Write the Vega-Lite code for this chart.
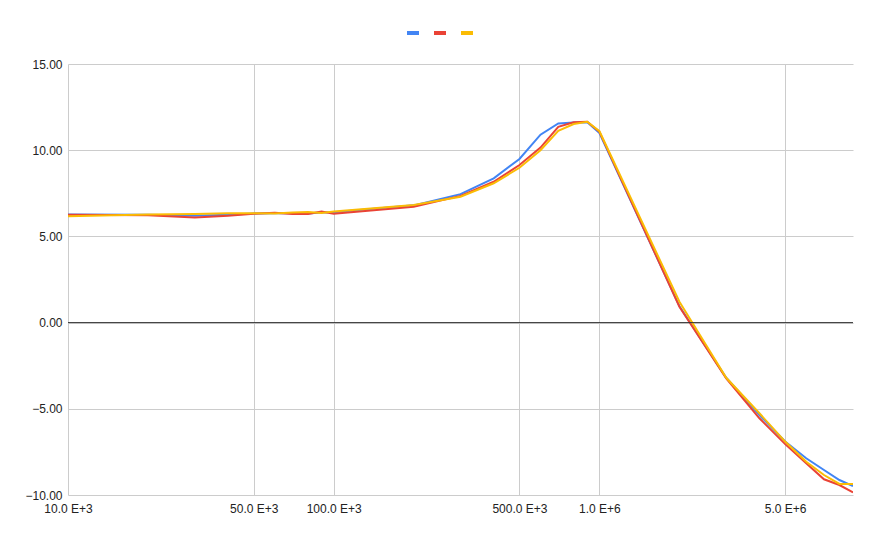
{
  "$schema": "https://vega.github.io/schema/vega-lite/v6.json",
  "width": 785,
  "height": 431,
  "autosize": "none",
  "padding": {"left": 68, "top": 64, "right": 28, "bottom": 49},
  "background": "white",
  "config": {
    "view": {"stroke": null},
    "font": "Liberation Sans",
    "axis": {"labelFont": "Liberation Sans", "labelFontSize": 12, "labelColor": "#222222", "gridColor": "#cccccc", "gridWidth": 1, "domain": false, "ticks": false, "title": null}
  },
  "datasets": {
    "curves": [
      {"freq": 10000, "series": "A", "value": 6.27}, {"freq": 10000, "series": "B", "value": 6.25}, {"freq": 10000, "series": "C", "value": 6.17},
      {"freq": 20000, "series": "A", "value": 6.25}, {"freq": 20000, "series": "B", "value": 6.22}, {"freq": 20000, "series": "C", "value": 6.27},
      {"freq": 30000, "series": "A", "value": 6.2}, {"freq": 30000, "series": "B", "value": 6.1}, {"freq": 30000, "series": "C", "value": 6.3},
      {"freq": 40000, "series": "A", "value": 6.26}, {"freq": 40000, "series": "B", "value": 6.2}, {"freq": 40000, "series": "C", "value": 6.34},
      {"freq": 50000, "series": "A", "value": 6.33}, {"freq": 50000, "series": "B", "value": 6.32}, {"freq": 50000, "series": "C", "value": 6.35},
      {"freq": 60000, "series": "A", "value": 6.35}, {"freq": 60000, "series": "B", "value": 6.37}, {"freq": 60000, "series": "C", "value": 6.33},
      {"freq": 70000, "series": "A", "value": 6.34}, {"freq": 70000, "series": "B", "value": 6.3}, {"freq": 70000, "series": "C", "value": 6.38},
      {"freq": 80000, "series": "A", "value": 6.33}, {"freq": 80000, "series": "B", "value": 6.3}, {"freq": 80000, "series": "C", "value": 6.42},
      {"freq": 90000, "series": "A", "value": 6.38}, {"freq": 90000, "series": "B", "value": 6.44}, {"freq": 90000, "series": "C", "value": 6.36},
      {"freq": 100000, "series": "A", "value": 6.4}, {"freq": 100000, "series": "B", "value": 6.32}, {"freq": 100000, "series": "C", "value": 6.45},
      {"freq": 200000, "series": "A", "value": 6.8}, {"freq": 200000, "series": "B", "value": 6.72}, {"freq": 200000, "series": "C", "value": 6.82},
      {"freq": 300000, "series": "A", "value": 7.45}, {"freq": 300000, "series": "B", "value": 7.35}, {"freq": 300000, "series": "C", "value": 7.3},
      {"freq": 400000, "series": "A", "value": 8.37}, {"freq": 400000, "series": "B", "value": 8.17}, {"freq": 400000, "series": "C", "value": 8.08},
      {"freq": 500000, "series": "A", "value": 9.49}, {"freq": 500000, "series": "B", "value": 9.14}, {"freq": 500000, "series": "C", "value": 8.98},
      {"freq": 600000, "series": "A", "value": 10.9}, {"freq": 600000, "series": "B", "value": 10.15}, {"freq": 600000, "series": "C", "value": 10.0},
      {"freq": 700000, "series": "A", "value": 11.55}, {"freq": 700000, "series": "B", "value": 11.36}, {"freq": 700000, "series": "C", "value": 11.13},
      {"freq": 800000, "series": "A", "value": 11.6}, {"freq": 800000, "series": "B", "value": 11.62}, {"freq": 800000, "series": "C", "value": 11.52},
      {"freq": 900000, "series": "A", "value": 11.62}, {"freq": 900000, "series": "B", "value": 11.65}, {"freq": 900000, "series": "C", "value": 11.65},
      {"freq": 1000000, "series": "A", "value": 11.0}, {"freq": 1000000, "series": "B", "value": 11.07}, {"freq": 1000000, "series": "C", "value": 11.1},
      {"freq": 2000000, "series": "A", "value": 0.95}, {"freq": 2000000, "series": "B", "value": 0.92}, {"freq": 2000000, "series": "C", "value": 1.21},
      {"freq": 3000000, "series": "A", "value": -3.2}, {"freq": 3000000, "series": "B", "value": -3.23}, {"freq": 3000000, "series": "C", "value": -3.2},
      {"freq": 4000000, "series": "A", "value": -5.36}, {"freq": 4000000, "series": "B", "value": -5.55}, {"freq": 4000000, "series": "C", "value": -5.26},
      {"freq": 5000000, "series": "A", "value": -6.9}, {"freq": 5000000, "series": "B", "value": -7.05}, {"freq": 5000000, "series": "C", "value": -6.9},
      {"freq": 6000000, "series": "A", "value": -7.87}, {"freq": 6000000, "series": "B", "value": -8.16}, {"freq": 6000000, "series": "C", "value": -8.07},
      {"freq": 7000000, "series": "A", "value": -8.55}, {"freq": 7000000, "series": "B", "value": -9.09}, {"freq": 7000000, "series": "C", "value": -8.84},
      {"freq": 8000000, "series": "A", "value": -9.13}, {"freq": 8000000, "series": "B", "value": -9.42}, {"freq": 8000000, "series": "C", "value": -9.36},
      {"freq": 9000000, "series": "A", "value": -9.48}, {"freq": 9000000, "series": "B", "value": -9.85}, {"freq": 9000000, "series": "C", "value": -9.36}
    ],
    "zero": [{"y": 0}]
  },
  "layer": [
    {
      "data": {"name": "curves"},
      "mark": {"type": "line", "strokeWidth": 2, "clip": true},
      "encoding": {
        "x": {
          "field": "freq", "type": "quantitative",
          "scale": {"type": "log", "domain": [10000, 9000000], "nice": false},
          "axis": {
            "values": [10000, 50000, 100000, 500000, 1000000, 5000000],
            "labelExpr": "format(datum.value / pow(10, floor(log(datum.value) / LN10 / 3 + 1e-9) * 3), '.1f') + ' E+' + (floor(log(datum.value) / LN10 / 3 + 1e-9) * 3)",
            "labelPadding": 8,
            "labelFlush": false
          }
        },
        "y": {
          "field": "value", "type": "quantitative",
          "scale": {"domain": [-10, 15], "nice": false},
          "axis": {"values": [-10, -5, 0, 5, 10, 15], "format": ".2f", "labelPadding": 6}
        },
        "color": {
          "field": "series", "type": "nominal",
          "scale": {"domain": ["A", "B", "C"], "range": ["#4285F4", "#EA4335", "#FBBC04"]},
          "legend": {
            "orient": "none", "legendX": 337, "legendY": -39, "direction": "horizontal",
            "title": null, "labelExpr": "''", "labelOffset": 0, "columnPadding": -1,
            "symbolType": "stroke", "symbolStrokeWidth": 4, "symbolSize": 144
          }
        }
      }
    },
    {
      "data": {"name": "zero"},
      "mark": {"type": "rule", "color": "#333333", "strokeWidth": 1},
      "encoding": {"y": {"field": "y", "type": "quantitative"}}
    }
  ]
}
